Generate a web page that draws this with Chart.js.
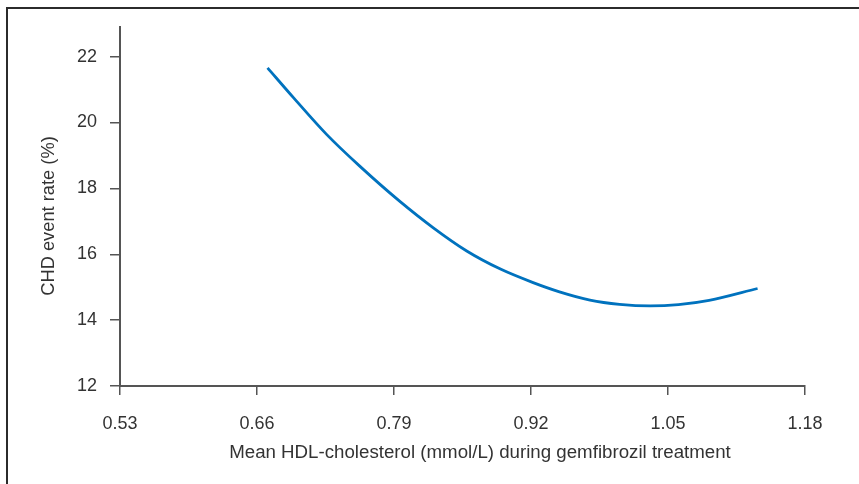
<!DOCTYPE html>
<html>
<head>
<meta charset="utf-8">
<title>CHD event rate vs HDL-cholesterol</title>
<script src="https://cdn.jsdelivr.net/npm/chart.js@4/dist/chart.umd.min.js"></script>
<style>
	body { margin: 0; background: #fff; }
	#wrap { position: relative; width: 859px; height: 484px; overflow: hidden; }
	#frame { position: absolute; left: 6px; top: 7px; width: 900px; height: 600px; border-left: 2px solid #2b2b2b; border-top: 2px solid #2b2b2b; pointer-events: none; }
</style>
</head>
<body>
<div id="wrap">
	<canvas id="grafico" width="859" height="484"></canvas>
	<div id="frame"></div>
</div>
<script>
// Dados
const hdl = [0.670, 0.695, 0.726, 0.758, 0.795, 0.827, 0.859, 0.891, 0.922, 0.947, 0.976, 1.004, 1.033, 1.060, 1.089, 1.135];
const chdRate = [21.66, 20.74, 19.64, 18.66, 17.62, 16.81, 16.10, 15.55, 15.14, 14.86, 14.61, 14.48, 14.43, 14.47, 14.60, 14.96];
const xTicks = [0.53, 0.66, 0.79, 0.92, 1.05, 1.18];
const yTicks = [12, 14, 16, 18, 20, 22];
const xTitle = "Mean HDL-cholesterol (mmol/L) during gemfibrozil treatment";
const yTitle = "CHD event rate (%)";

const fonte = "'Liberation Sans', Arial, Helvetica, sans-serif";
const corTexto = "#333333";
const corEixo = "#555555";

// Títulos dos eixos desenhados à mão (posição igual à figura)
const axisTitles = {
	id: "axisTitles",
	afterDraw(chart) {
		const ctx = chart.ctx;
		ctx.save();
		ctx.fillStyle = corTexto;
		ctx.textAlign = "center";
		ctx.textBaseline = "middle";
		ctx.font = "18.7px " + fonte;
		ctx.fillText(xTitle, 480, 453);
		ctx.font = "18.3px " + fonte;
		ctx.translate(49, 216);
		ctx.rotate(-Math.PI / 2);
		ctx.fillText(yTitle, 0, 0);
		ctx.restore();
	},
};

let linhas = new Chart(document.getElementById("grafico"), {
	type: "line",
	data: {
		datasets: [
			{
				data: hdl.map((x, i) => ({ x: x, y: chdRate[i] })),
				borderColor: "rgb(0,114,190)",
				borderWidth: 2.8,
				pointRadius: 0,
				cubicInterpolationMode: "monotone",
				fill: false,
			},
		],
	},
	options: {
		responsive: false,
		animation: false,
		layout: {
			padding: { left: 0, top: 27, right: 54, bottom: 0 },
		},
		plugins: {
			legend: { display: false },
			tooltip: { enabled: false },
		},
		scales: {
			x: {
				type: "linear",
				min: 0.53,
				max: 1.18,
				afterBuildTicks: (scale) => {
					scale.ticks = xTicks.map((v) => ({ value: v }));
				},
				afterFit: (scale) => {
					scale.height = 98;
				},
				ticks: {
					padding: 18,
					color: corTexto,
					font: { family: fonte, size: 18 },
					maxRotation: 0,
					callback: (v) => v.toFixed(2),
				},
				grid: { drawOnChartArea: false, tickLength: 9, color: corEixo, lineWidth: 1.5 },
				border: { color: corEixo, width: 2 },
			},
			y: {
				min: 12,
				max: 22.9,
				afterBuildTicks: (scale) => {
					scale.ticks = yTicks.map((v) => ({ value: v }));
				},
				afterFit: (scale) => {
					scale.width = 120;
				},
				ticks: {
					padding: 13,
					color: corTexto,
					font: { family: fonte, size: 18 },
				},
				grid: { drawOnChartArea: false, tickLength: 10, color: corEixo, lineWidth: 1.5 },
				border: { color: corEixo, width: 2 },
			},
		},
	},
	plugins: [axisTitles],
});
</script>
</body>
</html>
